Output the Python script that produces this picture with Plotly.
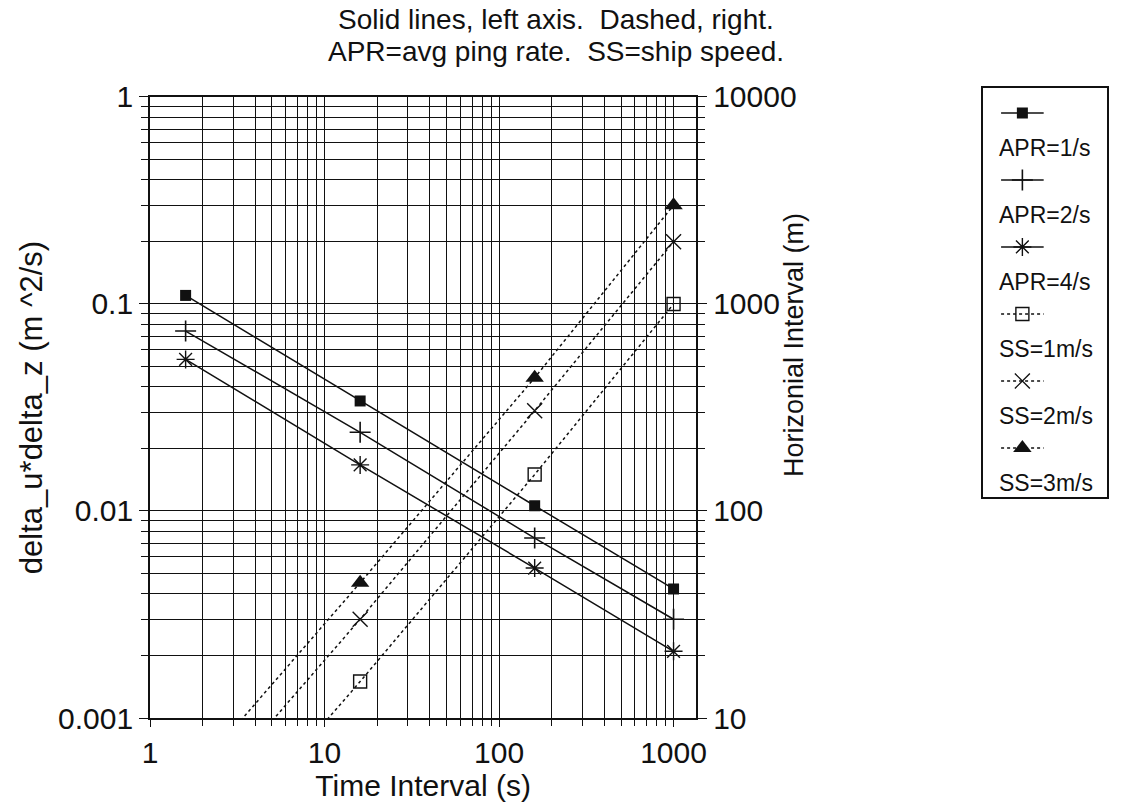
import plotly.graph_objects as go

# ---------------- data ----------------
time_s = [1.6, 16, 160, 1000]                 # Time Interval (s)

apr_names = ["APR=1/s", "APR=2/s", "APR=4/s"]  # left axis, solid
apr_1 = [0.110, 0.034, 0.0106, 0.0042]
apr_2 = [0.074, 0.024, 0.0074, 0.0030]
apr_4 = [0.054, 0.0167, 0.0053, 0.0021]

ss_names = ["SS=1m/s", "SS=2m/s", "SS=3m/s"]   # right axis, dashed
ss_1 = [1.6, 15, 150, 1000]
ss_2 = [3.2, 30, 305, 2000]
ss_3 = [4.8, 45, 440, 3000]

left_ticks = [0.001, 0.01, 0.1, 1]
left_labels = ["0.001", "0.01", "0.1", "1"]
right_ticks = [10, 100, 1000, 10000]
right_labels = ["10", "100", "1000", "10000"]
x_ticks = [1, 10, 100, 1000]
x_labels = ["1", "10", "100", "1000"]

# ---------------- styling ----------------
FONT = "Liberation Sans, Arial, Helvetica, sans-serif"
INK = "#111111"

series = [
    dict(name=apr_names[0], y=apr_1, axis="y", dash="solid",
         marker=dict(symbol="square", size=11, color=INK)),
    dict(name=apr_names[1], y=apr_2, axis="y", dash="solid",
         marker=dict(symbol="cross-thin", size=15, color=INK, line=dict(width=1.6, color=INK))),
    dict(name=apr_names[2], y=apr_4, axis="y", dash="solid",
         marker=dict(symbol="asterisk", size=15, color=INK, line=dict(width=1.4, color=INK))),
    dict(name=ss_names[0], y=ss_1, axis="y2", dash="dot",
         marker=dict(symbol="square-open", size=13, color=INK, line=dict(width=1.4, color=INK))),
    dict(name=ss_names[1], y=ss_2, axis="y2", dash="dot",
         marker=dict(symbol="x-thin", size=15, color=INK, line=dict(width=1.4, color=INK))),
    dict(name=ss_names[2], y=ss_3, axis="y2", dash="dot",
         marker=dict(symbol="triangle-up", size=16, color=INK)),
]

fig = go.Figure()
for s in series:
    fig.add_trace(go.Scatter(
        x=time_s, y=s["y"], yaxis=s["axis"], mode="lines+markers", name=s["name"],
        line=dict(color=INK, width=1.5, dash=s["dash"]),
        marker=s["marker"], showlegend=False, cliponaxis=False))

# ---------------- hand-drawn style legend (separate small axes) ----------------
row_h = 67
for i, s in enumerate(series):
    y_row = 25 + i * row_h
    fig.add_trace(go.Scatter(
        x=[18, 61], y=[y_row, y_row], xaxis="x3", yaxis="y3", mode="lines",
        line=dict(color=INK, width=1.5, dash=s["dash"]), showlegend=False, hoverinfo="skip"))
    m = dict(s["marker"])
    fig.add_trace(go.Scatter(
        x=[39.5], y=[y_row], xaxis="x3", yaxis="y3", mode="markers",
        marker=m, showlegend=False, hoverinfo="skip"))
    fig.add_annotation(x=14, y=y_row + 35, xref="x3", yref="y3", text=s["name"],
                       showarrow=False, xanchor="left", yanchor="middle",
                       font=dict(size=23, color=INK, family=FONT))

# minor grid values for log axes
def minor_vals(lo_exp, hi_exp):
    return [m * 10.0 ** e for e in range(lo_exp, hi_exp + 1) for m in range(2, 10)]

grid_style = dict(showgrid=True, gridcolor=INK, gridwidth=1.4)

fig.update_layout(
    width=1122, height=806,
    margin=dict(l=150, r=4, t=80, b=88),
    paper_bgcolor="white", plot_bgcolor="white",
    font=dict(family=FONT, color=INK),
    xaxis=dict(
        type="log", range=[0, 3.13], domain=[0, 0.5702],
        tickmode="array", tickvals=x_ticks, ticktext=x_labels,
        tickfont=dict(size=30), ticks="outside", ticklen=7, tickcolor=INK, tickwidth=1.4,
        minor=dict(tickvals=minor_vals(0, 3), ticks="outside", ticklen=6, tickcolor=INK,
                   showgrid=True, gridcolor=INK, gridwidth=1.4),
        showline=True, linecolor=INK, linewidth=1.8, mirror=True,
        title=dict(text="Time Interval (s)", font=dict(size=30), standoff=4),
        zeroline=False, **grid_style),
    yaxis=dict(
        type="log", range=[-3, 0], domain=[0, 0.9734],
        tickmode="array", tickvals=left_ticks, ticktext=left_labels,
        tickfont=dict(size=30), ticks="outside", ticklen=9, tickcolor=INK, tickwidth=1.4,
        minor=dict(tickvals=minor_vals(-3, -1), ticks="outside", ticklen=7, tickcolor=INK,
                   showgrid=True, gridcolor=INK, gridwidth=1.4),
        showline=True, linecolor=INK, linewidth=1.8, mirror=True,
        title=dict(text="delta_u*delta_z (m ^2/s)", font=dict(size=31), standoff=6),
        zeroline=False, **grid_style),
    yaxis2=dict(
        type="log", range=[1, 4], overlaying="y", side="right", anchor="x",
        tickmode="array", tickvals=right_ticks, ticktext=right_labels,
        tickfont=dict(size=30), ticks="outside", ticklen=9, tickcolor=INK, tickwidth=1.4,
        minor=dict(tickvals=minor_vals(1, 3), ticks="outside", ticklen=7, tickcolor=INK),
        showgrid=False, showline=True, linecolor=INK, linewidth=1.8, zeroline=False),
    xaxis3=dict(domain=[0.8698, 0.999], range=[0, 125], anchor="y3",
                showgrid=False, zeroline=False, showticklabels=False, ticks="",
                showline=True, linecolor=INK, linewidth=2, mirror=True, fixedrange=True),
    yaxis3=dict(domain=[0.3464, 0.9875], range=[409, 0], anchor="x3",
                showgrid=False, zeroline=False, showticklabels=False, ticks="",
                showline=True, linecolor=INK, linewidth=2, mirror=True, fixedrange=True),
)

# right axis title (placed as in the reference)
fig.add_annotation(x=0.690, y=0.5846, xref="paper", yref="paper",
                   text="Horizonial Interval (m)", textangle=-90, showarrow=False,
                   font=dict(size=27, color=INK, family=FONT))

# two-line title
fig.add_annotation(x=0.4236, y=1.0956, xref="paper", yref="paper", showarrow=False,
                   text="Solid lines, left axis.&nbsp; Dashed, right.",
                   font=dict(size=28, color=INK, family=FONT), yanchor="middle")
fig.add_annotation(x=0.4236, y=1.0440, xref="paper", yref="paper", showarrow=False,
                   text="APR=avg ping rate.&nbsp; SS=ship speed.",
                   font=dict(size=28, color=INK, family=FONT), yanchor="middle")

fig.write_html("out.html")
